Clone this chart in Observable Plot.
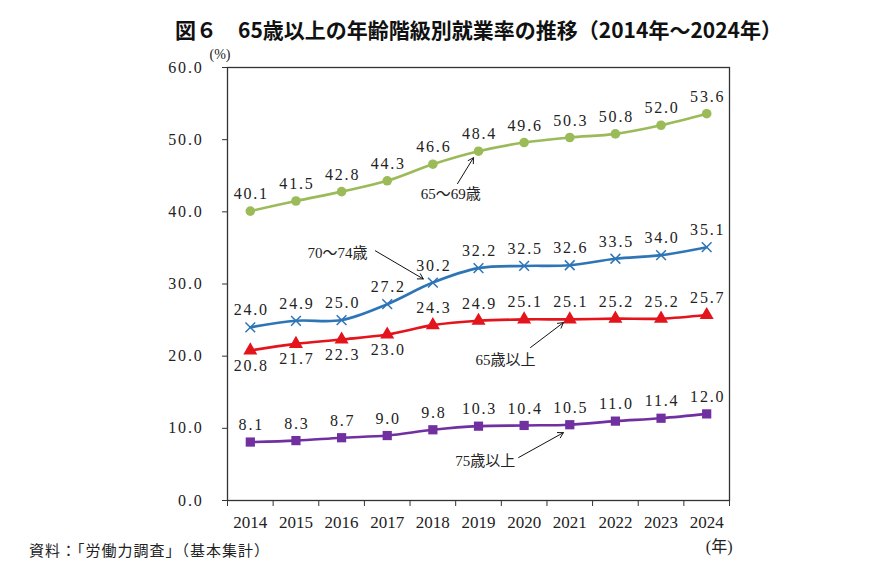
<!DOCTYPE html>
<html><head><meta charset="utf-8">
<script src="https://cdn.jsdelivr.net/npm/d3@7"></script>
<script src="https://cdn.jsdelivr.net/npm/@observablehq/plot@0.6"></script>
<style>
body{margin:0;background:#fff;}
#wrap{position:relative;width:870px;height:574px;overflow:hidden;}
#title{position:absolute;left:0;top:14px;width:957px;text-align:center;font-family:"Noto Sans CJK JP",sans-serif;font-weight:bold;font-size:21px;color:#111;white-space:nowrap;}
#caption{position:absolute;left:29px;top:539px;font-family:"Noto Sans CJK JP",sans-serif;font-size:15px;letter-spacing:1px;color:#222;white-space:nowrap;}
#chart{position:absolute;left:0;top:0;}
</style></head>
<body>
<div id="wrap">
<div id="chart"></div>
<div id="title">図６　65歳以上の年齢階級別就業率の推移（2014年〜2024年）</div>
<div id="caption">資料：「労働力調査」（基本集計）</div>
</div>
<script>
const years = [2014, 2015, 2016, 2017, 2018, 2019, 2020, 2021, 2022, 2023, 2024];
const seriesNames = ["65〜69歳", "70〜74歳", "65歳以上", "75歳以上"];
const age65to69 = [40.1, 41.5, 42.8, 44.3, 46.6, 48.4, 49.6, 50.3, 50.8, 52.0, 53.6];
const age70to74 = [24.0, 24.9, 25.0, 27.2, 30.2, 32.2, 32.5, 32.6, 33.5, 34.0, 35.1];
const age65plus = [20.8, 21.7, 22.3, 23.0, 24.3, 24.9, 25.1, 25.1, 25.2, 25.2, 25.7];
const age75plus = [8.1, 8.3, 8.7, 9.0, 9.8, 10.3, 10.4, 10.5, 11.0, 11.4, 12.0];
const yTicks = [0, 10, 20, 30, 40, 50, 60];
const yUnit = "(%)";
const xUnit = "(年)";

// annotation callouts (data coordinates)
const annotText = ["65〜69歳", "70〜74歳", "65歳以上", "75歳以上"];
const annotX = [2018.39, 2015.91, 2019.59, 2019.15];
const annotY = [42.5, 34.3, 19.4, 5.5];
const arrowX1 = [2018.54, 2016.74, 2020.14, 2019.88];
const arrowY1 = [43.9, 34.6, 21.2, 5.96];
const arrowX2 = [2018.89, 2017.79, 2020.86, 2020.86];
const arrowY2 = [47.5, 30.7, 24.65, 9.4];

const colors = ["#9BBB59", "#2E75B6", "#E3141C", "#7030A0"];
const symbols = ["circle", "times", "triangle", "square"];
const allValues = [age65to69, age70to74, age65plus, age75plus];

const rows = [];
allValues.forEach((vals, si) => vals.forEach((v, i) => rows.push({series: seriesNames[si], si, i, year: years[i], value: v})));
const below = d => d.si === 2 && d.i < 4;
const annots = annotText.map((t, k) => ({t, x: annotX[k], y: annotY[k], x1: arrowX1[k], y1: arrowY1[k], x2: arrowX2[k], y2: arrowY2[k]}));

const serif = "'Liberation Serif','DejaVu Serif','Noto Sans CJK JP',serif";
const marks = [
  Plot.frame({stroke: "#333", strokeWidth: 1.3}),
  Plot.axisY({ticks: yTicks, tickFormat: d => d.toFixed(1), tickSize: 5, tickPadding: 19, fontSize: 16, fontFamily: serif, label: null, stroke: "#333"}),
  Plot.axisX({ticks: d3.range(2013.5, 2025, 1), tickFormat: () => "", tickSize: 6, label: null, stroke: "#333"}),
  Plot.axisX({ticks: years, tickFormat: d => String(d), tickSize: 0, tickPadding: 15, fontSize: 17, fontFamily: serif, label: null}),
  Plot.text([yUnit], {frameAnchor: "top-left", dx: -18, dy: -18, fontSize: 14, fontFamily: serif, fill: "#222"}),
  Plot.text([xUnit], {frameAnchor: "bottom-right", dx: 3, dy: 51, fontSize: 16, fontFamily: serif, fill: "#222"})
];
seriesNames.forEach((name, si) => {
  const data = rows.filter(d => d.si === si);
  marks.push(Plot.line(data, {x: "year", y: "value", stroke: colors[si], strokeWidth: 2.6, curve: "catmull-rom"}));
  if (symbols[si] === "times") {
    marks.push(Plot.dot(data, {x: "year", y: "value", symbol: "times", r: 4.5, stroke: colors[si], strokeWidth: 1.5}));
  } else {
    marks.push(Plot.dot(data, {x: "year", y: "value", symbol: symbols[si], r: symbols[si] === "circle" ? 4.8 : 5.2, fill: colors[si], stroke: "none"}));
  }
  marks.push(Plot.text(data.filter(d => !below(d)), {x: "year", y: "value", text: d => d.value.toFixed(1), dy: -17, dx: 1, fontSize: 16, fontFamily: serif, fill: "#222"}));
  marks.push(Plot.text(data.filter(below), {x: "year", y: "value", text: d => d.value.toFixed(1), dy: 15, dx: 1, fontSize: 16, fontFamily: serif, fill: "#222"}));
});
marks.push(Plot.arrow(annots, {x1: "x1", y1: "y1", x2: "x2", y2: "y2", stroke: "#111", strokeWidth: 1, headLength: 9, bend: false}));
marks.push(Plot.text(annots, {x: "x", y: "y", text: "t", fontSize: 15, fontFamily: serif, fill: "#222"}));

const chart = Plot.plot({
  width: 870,
  height: 574,
  marginLeft: 227,
  marginRight: 141,
  marginTop: 67,
  marginBottom: 74,
  x: {type: "linear", domain: [2013.5, 2024.5]},
  y: {domain: [0, 60]},
  style: {background: "transparent", color: "#222"},
  marks
});
// Mincho-like wide spacing for decimal numbers
d3.select(chart).selectAll("text").filter(function() { return /^\d+\.\d$/.test(this.textContent); })
  .attr("letter-spacing", "1.8px");
document.getElementById("chart").appendChild(chart);
</script>
</body></html>
